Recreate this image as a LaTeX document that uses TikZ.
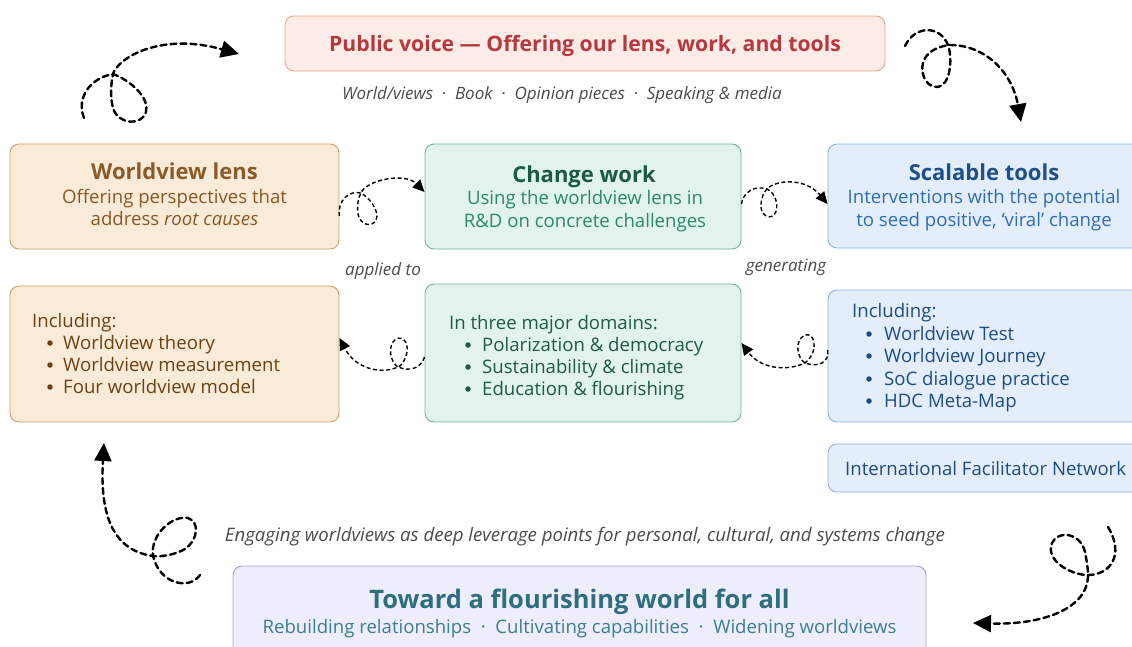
\documentclass[tikz,border=0pt]{standalone}
\usepackage{fontspec}
\setmainfont{Open Sans}
\usetikzlibrary{arrows.meta}

\definecolor{pvfill}{HTML}{FCEBE6}
\definecolor{pvline}{HTML}{E3A594}
\definecolor{pvtext}{HTML}{B5393E}
\definecolor{wlfill}{HTML}{FAEBD8}
\definecolor{wlline}{HTML}{C9A06E}
\definecolor{wltitle}{HTML}{8B5A2B}
\definecolor{wltext}{HTML}{8A5722}
\definecolor{wldark}{HTML}{6A4114}
\definecolor{cwfill}{HTML}{E1F3EC}
\definecolor{cwline}{HTML}{6DB598}
\definecolor{cwtitle}{HTML}{1D5A44}
\definecolor{cwtext}{HTML}{2C8A62}
\definecolor{cwdark}{HTML}{1F5A41}
\definecolor{stfill}{HTML}{E4EEFA}
\definecolor{stline}{HTML}{8DB2DE}
\definecolor{sttitle}{HTML}{1F4E8C}
\definecolor{sttext}{HTML}{2E6DB4}
\definecolor{stdark}{HTML}{1F4B85}
\definecolor{fwfill}{HTML}{EEEDFB}
\definecolor{fwline}{HTML}{A39DE0}
\definecolor{fwtitle}{HTML}{2F6E7F}
\definecolor{fwtext}{HTML}{3A7E8F}
\definecolor{note}{HTML}{4A4A4A}

\begin{document}
\begin{tikzpicture}[x=1pt,y=-1pt,
  box/.style={draw, rounded corners=9pt, line width=0.9pt, inner sep=0pt},
  txt/.style={inner sep=0pt, anchor=base},
  ltxt/.style={inner sep=0pt, anchor=base west},
  title/.style={txt, font=\fontsize{22}{26}\selectfont\bfseries},
  body/.style={font=\fontsize{18.6}{22}\selectfont},
  notes/.style={txt, font=\fontsize{17}{20}\selectfont\itshape, text=note},
  dot/.style={circle, fill, inner sep=0pt, minimum size=5.5pt},
  bigflow/.style={line width=2.4pt, dash pattern=on 6pt off 4pt, line cap=round,
    -{Triangle[length=18pt,width=17pt]}},
  smallflow/.style={line width=1.4pt, dash pattern=on 4pt off 2.6pt,
    -{Triangle[length=12pt,width=11pt]}}
]
\useasboundingbox (0,0) rectangle (1132,646);
\clip (0,0) rectangle (1132,646);

% ---- boxes ----
\node[box, fill=pvfill, draw=pvline, minimum width=600pt, minimum height=55pt] (pv) at (585,43.5) {};
\node[box, fill=wlfill, draw=wlline, minimum width=329pt, minimum height=105pt] (wl) at (174.5,196.5) {};
\node[box, fill=cwfill, draw=cwline, minimum width=316pt, minimum height=105pt] (cw) at (583,196.5) {};
\node[box, fill=stfill, draw=stline, minimum width=317pt, minimum height=104pt] (st) at (986.5,196) {};
\node[box, fill=wlfill, draw=wlline, minimum width=329pt, minimum height=136pt] (wli) at (174.5,354) {};
\node[box, fill=cwfill, draw=cwline, minimum width=316pt, minimum height=138pt] (cwi) at (583,353) {};
\node[box, fill=stfill, draw=stline, minimum width=317pt, minimum height=132pt] (sti) at (986.5,356) {};
\node[box, fill=stfill, draw=stline, minimum width=317pt, minimum height=48pt] (ifn) at (986.5,468) {};
\node[box, fill=fwfill, draw=fwline, minimum width=693pt, minimum height=94pt] (fw) at (579.5,613) {};

% ---- public voice ----
\node[txt, font=\fontsize{21.2}{25}\selectfont\bfseries, text=pvtext] (pvt) at (585,51) {Public voice — Offering our lens, work, and tools};
\node[notes] (pvn) at (562,99) {World/views \ · \ Book \ · \ Opinion pieces \ · \ Speaking \& media};

% ---- worldview lens ----
\node[title, text=wltitle] (wlt) at (174.5,179) {Worldview lens};
\node[txt, body, text=wltext] (wl1) at (174.5,203) {Offering perspectives that};
\node[txt, body, text=wltext] (wl2) at (174.5,225) {address \textit{root causes}};

% ---- change work ----
\node[title, text=cwtitle] (cwt) at (584,182) {Change work};
\node[txt, body, text=cwtext] (cw1) at (585,204) {Using the worldview lens in};
\node[txt, body, text=cwtext] (cw2) at (585,227) {R\&D on concrete challenges};

% ---- scalable tools ----
\node[title, text=sttitle] (stt) at (984,180) {Scalable tools};
\node[txt, body, text=sttext] (st1) at (984,203) {Interventions with the potential};
\node[txt, body, text=sttext] (st2) at (984,226) {to seed positive, ‘viral’ change};

% ---- connector labels ----
\node[notes] (lap) at (383,275) {applied to};
\node[notes] (lgen) at (786,271) {generating};

% ---- lists ----
\node[ltxt, body, text=wldark] (wli0) at (32,327) {Including:};
\foreach \y/\t [count=\i] in {349/Worldview theory, 371/Worldview measurement, 393/Four worldview model}{
  \node[dot, fill=wldark] (wlb\i) at (50,\y-6) {};
  \node[ltxt, body, text=wldark] (wlx\i) at (63,\y) {\t};
}
\node[ltxt, body, text=cwdark] (cwi0) at (449,329) {In three major domains:};
\foreach \y/\t [count=\i] in {351/Polarization \& democracy, 373/Sustainability \& climate, 395/Education \& flourishing}{
  \node[dot, fill=cwdark] (cwb\i) at (468,\y-6) {};
  \node[ltxt, body, text=cwdark] (cwx\i) at (482,\y) {\t};
}
\node[ltxt, body, text=stdark] (sti0) at (852,317) {Including:};
\foreach \y/\t [count=\i] in {340/Worldview Test, 362/Worldview Journey, 385/SoC dialogue practice, 407/HDC Meta-Map}{
  \node[dot, fill=stdark] (stb\i) at (869,\y-6) {};
  \node[ltxt, body, text=stdark] (stx\i) at (884,\y) {\t};
}
\node[ltxt, body, text=stdark] (ifnt) at (845,475) {International Facilitator Network};

% ---- bottom ----
\node[txt, font=\fontsize{18.6}{22}\selectfont\itshape, text=note] (eng) at (585,541) {Engaging worldviews as deep leverage points for personal, cultural, and systems change};
\node[txt, font=\fontsize{25.5}{30}\selectfont\bfseries, text=fwtitle] (fwt) at (579.5,608) {Toward a flourishing world for all};
\node[txt, body, text=fwtext] (fws) at (579.5,633) {Rebuilding relationships \ · \ Cultivating capabilities \ · \ Widening worldviews};

% ---- connector end points ----
\coordinate (a1s) at (84,118);  \coordinate (a1e) at (239,54);
\coordinate (a2s) at (905,46);  \coordinate (a2e) at (1021,122);
\coordinate (a3s) at (wl.east |- 0,216);  \coordinate (a3e) at (cw.west |- 0,192);
\coordinate (a4s) at (cw.east |- 0,204);  \coordinate (a4e) at (st.west |- 0,204);
\coordinate (a5s) at (cwi.west |- 0,357); \coordinate (a5e) at (wli.east |- 0,338);
\coordinate (a6s) at (sti.west |- 0,350); \coordinate (a6e) at (cwi.east |- 0,343);
\coordinate (a7s) at (200,575); \coordinate (a7e) at (104,443);
\coordinate (a8s) at (1108,527); \coordinate (a8e) at (973,623);

% ---- looping connectors ----
\draw[bigflow] (a1s) .. controls (76,98) and (90,78) .. (113,74)
  .. controls (130,80) and (150,98) .. (146,112)
  .. controls (142,126) and (118,125) .. (113,108)
  .. controls (110,96) and (111,84) .. (113,74)
  .. controls (118,58) and (160,32) .. (a1e);

\draw[bigflow] (a2s) .. controls (915,25) and (940,25) .. (948,45)
  .. controls (953,60) and (950,85) .. (938,87)
  .. controls (925,88) and (918,70) .. (925,58)
  .. controls (930,50) and (940,46) .. (950,45)
  .. controls (985,45) and (1012,72) .. (a2e);

\draw[smallflow] (a3s) .. controls (337,200) and (350,190) .. (361,193)
  .. controls (370,198) and (380,212) .. (376,220)
  .. controls (372,228) and (360,225) .. (358,214)
  .. controls (357,205) and (358,198) .. (361,193)
  .. controls (366,180) and (405,172) .. (a3e);

\draw[smallflow] (a4s) .. controls (743,192) and (755,185) .. (767,189)
  .. controls (776,193) and (780,208) .. (774,215)
  .. controls (768,220) and (760,214) .. (761,204)
  .. controls (762,196) and (764,192) .. (767,189)
  .. controls (775,180) and (805,177) .. (a4e);

\draw[smallflow] (a5s) .. controls (421,368) and (410,372) .. (398,367)
  .. controls (390,362) and (387,345) .. (396,339)
  .. controls (404,335) and (410,345) .. (406,356)
  .. controls (404,362) and (401,366) .. (398,367)
  .. controls (380,375) and (355,368) .. (a5e);

\draw[smallflow] (a6s) .. controls (830,362) and (818,368) .. (805,363)
  .. controls (797,358) and (794,340) .. (805,335)
  .. controls (815,332) and (818,350) .. (808,360)
  .. controls (807,361) and (806,362) .. (805,363)
  .. controls (785,372) and (760,368) .. (a6e);

\draw[bigflow] (a7s) .. controls (190,590) and (160,585) .. (153,556)
  .. controls (150,535) and (172,515) .. (188,518)
  .. controls (200,522) and (198,540) .. (185,549)
  .. controls (175,555) and (160,557) .. (153,556)
  .. controls (110,550) and (100,510) .. (a7e);

\draw[bigflow] (a8s) .. controls (1125,555) and (1110,575) .. (1088,575)
  .. controls (1070,575) and (1045,560) .. (1052,543)
  .. controls (1058,530) and (1080,532) .. (1085,552)
  .. controls (1087,562) and (1088,570) .. (1088,575)
  .. controls (1088,610) and (1040,625) .. (a8e);
\end{tikzpicture}
\end{document}
